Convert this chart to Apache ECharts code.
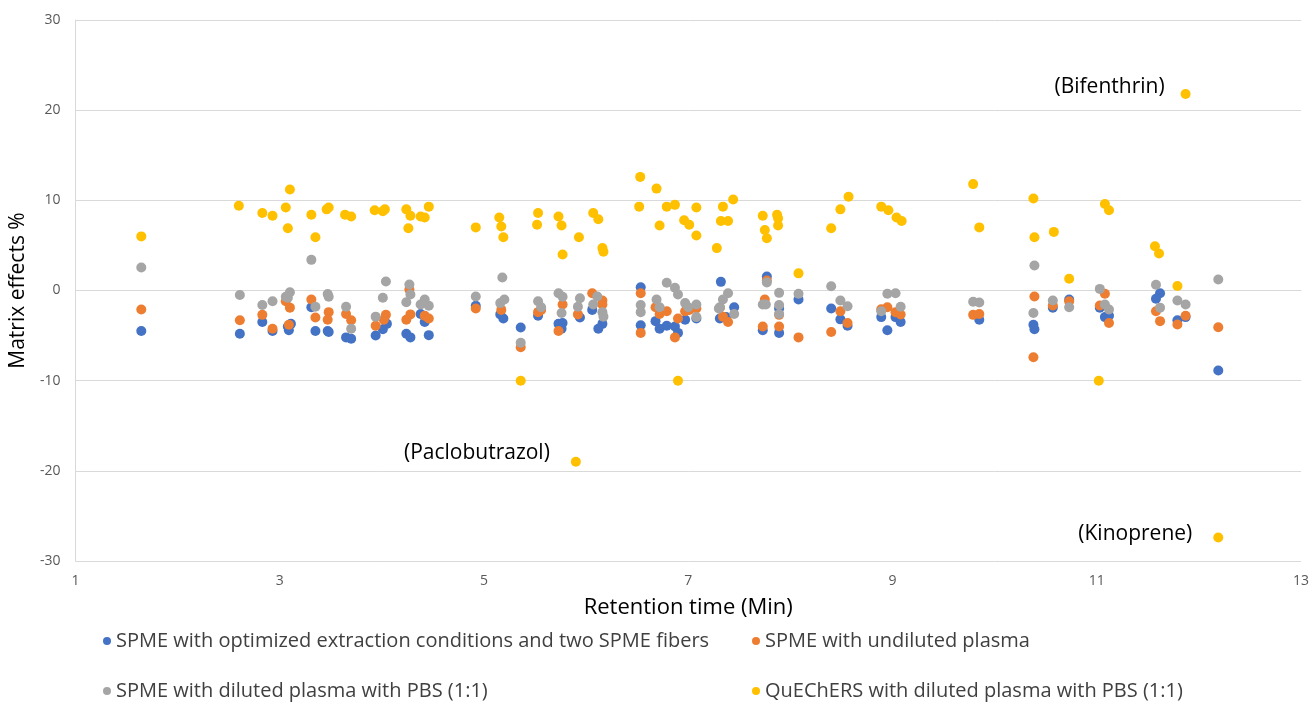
<!DOCTYPE html>
<html><head><meta charset="utf-8">
<script src="https://cdn.jsdelivr.net/npm/echarts@6/dist/echarts.min.js"></script>
<style>html,body{margin:0;padding:0;background:#fff}#c{width:1313px;height:704px}</style>
</head><body><div id="c"></div>
<script>
const seriesNames = [
  'SPME with optimized extraction conditions and two SPME fibers',
  'SPME with undiluted plasma',
  'SPME with diluted plasma with PBS (1:1)',
  'QuEChERS with diluted plasma with PBS (1:1)'
];
const xTicks = [1, 3, 5, 7, 9, 11, 13];
const yTicks = [-30, -20, -10, 0, 10, 20, 30];

const spmeOptimized = [
  [1.645,-4.5],[2.61,-4.8],[2.83,-3.5],[2.93,-4.5],[3.08,-4.0],[3.09,-4.4],[3.11,-3.7],
  [3.31,-1.85],[3.35,-4.5],[3.47,-4.5],[3.48,-4.6],[3.65,-5.2],[3.70,-5.35],[3.94,-5.0],
  [4.05,-3.7],[4.01,-4.3],[4.24,-4.8],[4.28,-5.2],[4.38,-2.6],[4.42,-3.5],[4.46,-4.95],
  [4.92,-1.7],[5.16,-2.65],[5.19,-3.1],[5.36,-4.1],[5.53,-2.8],[5.73,-3.7],[5.77,-3.6],
  [5.76,-4.25],[5.94,-3.0],[6.06,-2.15],[6.16,-3.7],[6.12,-4.25],[6.535,0.37],[6.535,-3.85],
  [6.68,-3.4],[6.72,-4.25],[6.79,-3.9],[6.87,-4.0],[6.90,-4.7],[6.97,-3.25],[7.08,-3.1],
  [7.32,0.96],[7.45,-1.85],[7.31,-3.1],[7.37,-2.95],[7.77,1.55],[7.73,-4.4],[7.89,-2.0],
  [7.89,-4.7],[8.08,-1.0],[8.40,-2.0],[8.49,-3.2],[8.56,-3.9],[8.89,-2.95],[9.03,-2.95],
  [9.08,-3.5],[8.95,-4.4],[9.85,-3.25],[10.38,-3.8],[10.39,-4.3],[10.57,-1.9],[10.73,-1.0],
  [11.03,-1.9],[11.08,-2.95],[11.12,-2.8],[11.62,-0.3],[11.58,-0.92],[11.79,-3.3],
  [11.87,-2.95],[12.19,-8.87]
];
const spmeUndiluted = [
  [1.645,-2.1],[2.61,-3.3],[2.83,-2.7],[2.93,-4.25],[3.06,-1.2],[3.10,-1.9],[3.09,-3.8],
  [3.31,-1.0],[3.35,-3.0],[3.48,-2.4],[3.47,-3.25],[3.65,-2.6],[3.70,-3.3],[3.94,-3.9],
  [4.04,-2.7],[4.02,-3.25],[4.27,0.1],[4.28,-2.65],[4.24,-3.25],[4.42,-2.8],[4.46,-3.1],
  [4.92,-2.0],[5.17,-2.15],[5.36,-6.3],[5.53,-2.4],[5.56,-2.15],[5.77,-1.55],[5.73,-4.5],
  [5.92,-2.65],[6.06,-0.3],[6.16,-1.1],[6.16,-1.55],[6.535,-0.3],[6.535,-4.7],[6.68,-1.85],
  [6.72,-2.6],[6.79,-2.3],[6.87,-5.2],[6.90,-3.1],[6.97,-2.3],[7.01,-2.15],[7.08,-2.0],
  [7.31,-1.9],[7.34,-2.9],[7.39,-3.5],[7.77,1.1],[7.75,-1.0],[7.73,-4.0],[7.89,-2.7],
  [7.89,-4.0],[8.08,-5.2],[8.40,-4.6],[8.49,-2.3],[8.56,-3.6],[8.89,-2.07],[8.95,-1.85],
  [9.03,-2.4],[9.08,-2.66],[9.79,-2.7],[9.85,-2.6],[10.39,-0.66],[10.38,-7.4],[10.57,-1.66],
  [10.73,-1.2],[11.03,-1.66],[11.08,-0.37],[11.12,-3.6],[11.58,-2.3],[11.62,-3.4],
  [11.79,-3.77],[11.87,-2.8],[12.19,-4.07]
];
const spmeDiluted = [
  [1.645,2.55],[2.61,-0.5],[2.83,-1.6],[2.93,-1.2],[3.06,-0.7],[3.08,-0.8],[3.10,-0.2],
  [3.31,3.4],[3.35,-1.8],[3.47,-0.4],[3.48,-0.7],[3.65,-1.8],[3.70,-4.25],[3.94,-2.9],
  [4.01,-0.8],[4.04,1.0],[4.27,0.66],[4.28,-0.45],[4.24,-1.3],[4.42,-1.0],[4.38,-1.55],
  [4.46,-1.7],[4.92,-0.66],[5.18,1.44],[5.16,-1.4],[5.20,-1.0],[5.36,-5.8],[5.53,-1.2],
  [5.56,-1.85],[5.73,-0.3],[5.77,-0.7],[5.76,-2.5],[5.94,-0.85],[5.92,-1.8],[6.11,-0.66],
  [6.07,-1.55],[6.16,-2.4],[6.17,-2.9],[6.535,-1.6],[6.535,-2.4],[6.79,0.85],[6.87,0.3],
  [6.90,-0.44],[6.69,-1.0],[6.72,-1.85],[6.97,-1.4],[7.00,-1.85],[7.08,-1.55],[7.08,-2.95],
  [7.39,-0.3],[7.34,-1.0],[7.31,-1.85],[7.30,-2.0],[7.45,-2.6],[7.77,0.9],[7.73,-1.55],
  [7.76,-1.55],[7.89,-0.26],[7.89,-1.6],[7.89,-2.6],[8.08,-0.37],[8.40,0.48],[8.49,-1.1],
  [8.56,-1.75],[8.95,-0.37],[9.03,-0.3],[8.89,-2.3],[9.08,-1.8],[9.79,-1.25],[9.85,-1.33],
  [10.39,2.77],[10.38,-2.5],[10.57,-1.1],[10.73,-1.85],[11.03,0.18],[11.08,-1.55],
  [11.12,-2.1],[11.58,0.63],[11.62,-1.9],[11.79,-1.1],[11.87,-1.55],[12.19,1.22]
];
const quechers = [
  [1.645,6.0],[2.60,9.4],[2.83,8.6],[2.93,8.3],[3.06,9.2],[3.10,11.2],[3.08,6.9],[3.31,8.4],
  [3.35,5.9],[3.46,9.0],[3.48,9.2],[3.64,8.4],[3.70,8.2],[3.93,8.9],[4.01,8.8],[4.03,9.0],
  [4.24,9.0],[4.26,6.9],[4.28,8.3],[4.38,8.2],[4.42,8.1],[4.46,9.3],[4.92,7.0],[5.15,8.1],
  [5.17,7.1],[5.19,5.9],[5.36,-10.0],[5.53,8.6],[5.52,7.3],[5.73,8.2],[5.76,7.2],[5.77,4.0],
  [5.93,5.9],[5.90,-19.0],[6.07,8.6],[6.12,7.9],[6.16,4.7],[6.17,4.3],[6.53,12.6],[6.52,9.3],
  [6.69,11.3],[6.72,7.2],[6.79,9.3],[6.87,9.5],[6.90,-10.0],[6.96,7.8],[7.01,7.3],[7.08,9.2],
  [7.08,6.1],[7.28,4.7],[7.32,7.7],[7.34,9.3],[7.39,7.7],[7.44,10.1],[7.73,8.3],[7.75,6.7],
  [7.77,5.8],[7.87,8.4],[7.88,8.0],[7.88,7.2],[8.08,1.9],[8.40,6.9],[8.49,9.0],[8.57,10.4],
  [8.89,9.3],[8.96,8.9],[9.04,8.1],[9.09,7.7],[9.79,11.8],[9.85,7.0],[10.38,10.2],[10.39,5.9],
  [10.58,6.5],[10.73,1.3],[11.02,-10.0],[11.08,9.6],[11.12,8.9],[11.57,4.9],[11.61,4.1],
  [11.79,0.5],[11.87,21.8],[12.19,-27.4]
];
const annotations = { '11.87,21.8': '(Bifenthrin)', '5.9,-19': '(Paclobutrazol)', '12.19,-27.4': '(Kinoprene)' };
const annotationStyle = {
  '(Bifenthrin)': { offset: [0, -7], distance: 16 },
  '(Paclobutrazol)': { offset: [0, -9], distance: 21 },
  '(Kinoprene)': { offset: [0, -4], distance: 21 }
};

const colors = ['#4472C4', '#ED7D31', '#A5A5A5', '#FFC000'];
const FONT = 'Open Sans';

const yellowData = quechers.map(p => {
  const key = p[0] + ',' + p[1];
  const name = annotations[key];
  if (!name) return p;
  return {
    value: p,
    label: {
      show: true, position: 'left', distance: annotationStyle[name].distance, formatter: name,
      offset: annotationStyle[name].offset, color: '#000', fontSize: 21, fontFamily: FONT
    }
  };
});

const datasets = [spmeOptimized, spmeUndiluted, spmeDiluted, yellowData];
const legendPos = [[103, 631], [752, 631], [103, 681], [752, 681]];

const chart = echarts.init(document.getElementById('c'));
chart.setOption({
  animation: false,
  color: colors,
  textStyle: { fontFamily: FONT },
  grid: { left: 73, right: 12, top: 20, bottom: 143 },
  legend: seriesNames.map((n, i) => ({
    data: [n], left: legendPos[i][0], top: legendPos[i][1], icon: 'circle',
    itemWidth: 8, itemHeight: 8, itemGap: 0, padding: 0,
    textStyle: { fontSize: 20, color: '#404040', fontFamily: FONT }
  })),
  xAxis: {
    type: 'value', min: xTicks[0], max: xTicks[xTicks.length - 1], interval: 2,
    name: 'Retention time (Min)', nameLocation: 'middle', nameGap: 36,
    nameTextStyle: { fontSize: 22, color: '#000', fontFamily: FONT },
    axisLine: { show: true, lineStyle: { color: '#d9d9d9' } },
    axisTick: { show: false },
    splitLine: { show: false },
    axisLabel: { color: '#595959', fontSize: 14, margin: 13 }
  },
  yAxis: {
    type: 'value', min: yTicks[0], max: yTicks[yTicks.length - 1], interval: 10,
    name: 'Matrix effects %', nameLocation: 'middle', nameGap: 37,
    nameTextStyle: { fontSize: 21, color: '#000', fontFamily: FONT },
    axisLine: { show: true, onZero: false, lineStyle: { color: '#d9d9d9' } },
    axisTick: { show: false },
    splitLine: { show: true, lineStyle: { color: '#d9d9d9' } },
    axisLabel: { color: '#595959', fontSize: 14, margin: 15 }
  },
  series: seriesNames.map((n, i) => ({
    name: n, type: 'scatter', symbolSize: 10, data: datasets[i],
    itemStyle: { color: colors[i], opacity: 1 }
  }))
});
</script></body></html>
